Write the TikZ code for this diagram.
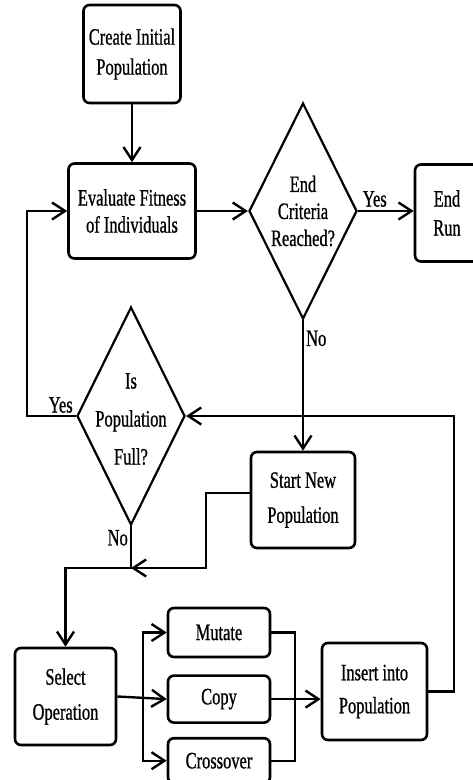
\documentclass[tikz,border=0pt]{standalone}
\usepackage{fontspec}
\setmainfont{Liberation Serif}[FakeStretch=0.7, FakeBold=0.8]
\usetikzlibrary{arrows.meta,positioning,shapes.geometric}

\begin{document}
\begin{tikzpicture}[x=1pt, y=-1pt, font=\fontsize{23.5}{27}\selectfont,
  box/.style={draw, line width=2.6pt, rounded corners=6pt, align=center, inner sep=2pt},
  decision/.style={draw, diamond, line width=2.2pt, inner sep=0pt},
  link/.style={line width=2.4pt},
  arrow/.style={link, -{Straight Barb[length=13pt, width=17pt]}}]
\useasboundingbox (0,0) rectangle (473,780);
\clip (0,0) rectangle (473,780);
\node[box, minimum width=97pt, minimum height=98pt] (create) at (132,54) {Create Initial\\[3pt]Population};
\node[box, minimum width=127pt, minimum height=95pt] (eval) at (132,211) {Evaluate Fitness\\of Individuals};
\node[decision, minimum width=108pt, minimum height=216pt] (endc) at (303,211) {};
\node[align=center] (endctext) at (endc) {End\\Criteria\\Reached?};
\node[box, minimum width=64pt, minimum height=97pt] (endrun) at (447,213) {End\\[2pt]Run};
\node[decision, minimum width=108pt, minimum height=218pt] (isfull) at (131,416) {};
\node[align=center] (isfulltext) at (131,419) {Is\\[11pt]Population\\[11pt]Full?};
\node[box, minimum width=104pt, minimum height=96pt] (startnew) at (303,500) {Start New\\[8pt]Population};
\node[box, minimum width=101pt, minimum height=97pt] (select) at (65.5,696.5) {Select\\[8pt]Operation};
\node[box, minimum width=102pt, minimum height=49pt] (mutate) at (219,632.5) {Mutate};
\node[box, minimum width=102pt, minimum height=47pt, below=16pt of mutate] (copy) {Copy};
\node[box, minimum width=102pt, minimum height=45pt, below=13pt of copy] (cross) {Crossover};
\node[box, minimum width=105pt, minimum height=97pt] (insert) at (374.5,691.5) {Insert into\\[6pt]Population};
\coordinate (loopl) at (27,416);
\coordinate (merge) at (131,568);
\coordinate (snbend) at (206,568);
\coordinate (fork) at (143,696.5);
\coordinate (join) at (295,696.5);
\coordinate (rloop) at (454,600);
\draw[arrow] (create.south) -- (eval.north);
\draw[arrow] (eval.east) -- (endc.west);
\draw[arrow] (endc.east) -- node[above, pos=.3, inner sep=3pt] {Yes} (endc.east -| endrun.west);
\draw[arrow] (endc.south) -- node[right, pos=.14, inner sep=2pt] {No} (startnew.north);
\draw[arrow] (isfull.west) node[above left, inner sep=2pt] {Yes} -- (loopl) |- (eval.west);
\draw[arrow] (isfull.south) -- node[left, pos=.28, inner sep=2pt] {No} (merge) -| (select.north);
\draw[arrow] ([yshift=7pt]startnew.west) -| (snbend) -- (merge);
\draw[arrow] (select.east) -- (copy.west);
\draw[arrow] (fork) |- (mutate.west);
\draw[arrow] (fork) |- (cross.west);
\draw[link] (mutate.east) -| (join) |- (cross.east);
\draw[arrow] (copy.east) -- (copy.east -| insert.west);
\draw[arrow] (insert.east) -| (rloop) |- (isfull.east);
\end{tikzpicture}
\end{document}
